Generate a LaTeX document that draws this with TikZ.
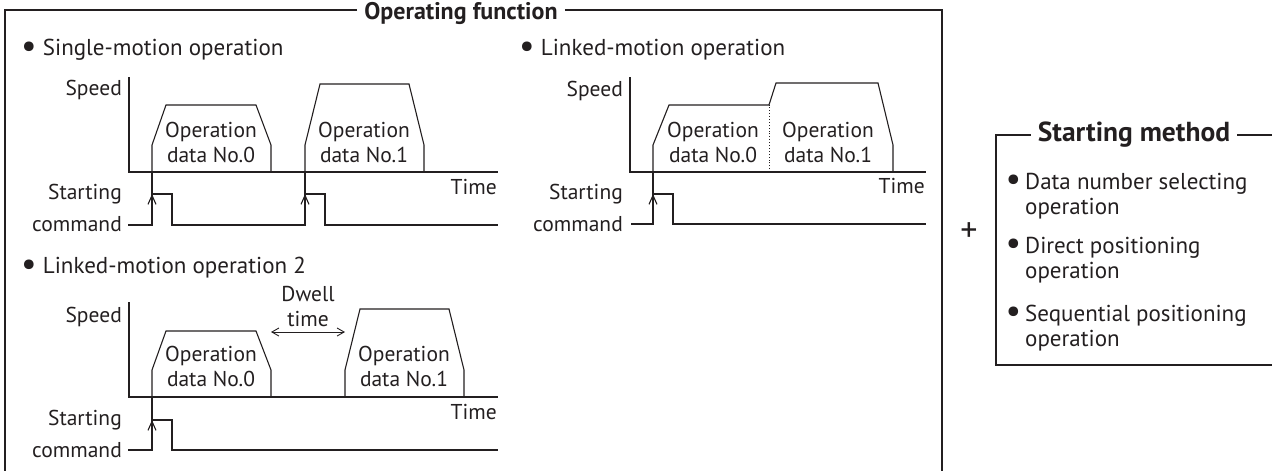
\documentclass[tikz,border=0pt]{standalone}
\usepackage{fontspec}
\setmainfont{PT Sans}
\usepackage{graphicx}
\usepackage{tikz}
\usetikzlibrary{positioning,arrows.meta,calc}
\usepackage{xcolor}
\definecolor{ink}{HTML}{231F20}
\newcommand{\bigbul}{\raisebox{-1.5pt}{\scalebox{1.5}{\textbullet}}}

\begin{document}
\begin{tikzpicture}[
    x=1pt, y=1pt,
    every node/.style={text=ink},
    lbl/.style={inner sep=1pt, font=\fontsize{21.5}{25}\selectfont},
    heading/.style={anchor=west, inner sep=0pt, font=\fontsize{23}{27}\selectfont},
    boxtitle/.style={inner sep=7pt, font=\fontsize{24}{27}\selectfont\bfseries},
    itemtext/.style={anchor=west, align=left, inner sep=0pt, font=\fontsize{23}{25}\selectfont},
    frameline/.style={draw=ink, line width=1.3pt},
    axisline/.style={draw=ink, line width=1.1pt},
    wave/.style={draw=ink, line width=1.1pt, line join=miter},
    trigarrow/.style={draw=ink, line width=1.1pt, -{Straight Barb[length=9pt, width=8pt]}},
    dimline/.style={draw=ink, line width=0.9pt, {Straight Barb[length=7pt, width=8pt]}-{Straight Barb[length=7pt, width=8pt]}},
]
\useasboundingbox (0,0) rectangle (1272,-471);

\node[boxtitle] (opfunc) at (461,-13) {Operating function};
\draw[frameline] (opfunc.west |- 0,-10) -| (5,-475);
\draw[frameline] (opfunc.east |- 0,-10) -| (942,-475);

\node[heading] (hsingle) at (21,-50) {\bigbul\ Single-motion operation};
\node[heading] (hlinked) at (519,-50) {\bigbul\ Linked-motion operation};
\node[heading] (hlinkedtwo) at (21,-268) {\bigbul\ Linked-motion operation 2};

\begin{scope}[shift={(129,-172)}]
    \draw[axisline] (0,95) -- (0,0) -- (369,0);
    \draw[wave] (23,0) -- (23,27) -- (37,67) -- (127,67) -- (142,27) -- (142,0);
    \draw[wave] (176,0) -- (176,27) -- (191,88) -- (280,88) -- (295,27) -- (295,0);
    \draw[wave] (-1,-53) -- (23,-53) -- (23,-22) -- (43,-22) -- (43,-53) -- (176,-53)
        -- (176,-22) -- (196,-22) -- (196,-53) -- (369,-53);
    \draw[wave] (23,-22) -- (23,0);
    \draw[wave] (176,-22) -- (176,0);
    \draw[trigarrow] (23,-40) -- (23,-22);
    \draw[trigarrow] (176,-40) -- (176,-22);
    \node[lbl, anchor=east] (speedA) at (-6,82) {Speed};
    \node[lbl, anchor=east] (timeA) at (369,-15) {Time};
    \node[lbl, anchor=east] (startA) at (-6,-22) {Starting};
    \node[lbl, anchor=east] (cmdA) at (-6,-52) {command};
    \node[lbl, align=center] (opAzero) at (82,30) {Operation\\data No.0};
    \node[lbl, align=center] (opAone) at (235,30) {Operation\\data No.1};
\end{scope}

\begin{scope}[shift={(630,-172)}]
    \draw[axisline] (0,95) -- (0,0) -- (296,0);
    \draw[wave] (23,0) -- (23,27) -- (39,67) -- (139,67) -- (146,89) -- (248,89) -- (263,27) -- (263,0);
    \draw[ink, line width=0.9pt, dotted] (139,0) -- (139,67);
    \draw[wave] (1,-52) -- (23,-52) -- (23,-22) -- (43,-22) -- (43,-52) -- (296,-52);
    \draw[wave] (23,-22) -- (23,0);
    \draw[trigarrow] (23,-40) -- (23,-22);
    \node[lbl, anchor=east] (speedB) at (-6,81) {Speed};
    \node[lbl, anchor=east] (timeB) at (296,-14) {Time};
    \node[lbl, anchor=east] (startB) at (-6,-22) {Starting};
    \node[lbl, anchor=east] (cmdB) at (-6,-52) {command};
    \node[lbl, align=center] (opBzero) at (83,30) {Operation\\data No.0};
    \node[lbl, align=center] (opBone) at (198,30) {Operation\\data No.1};
\end{scope}

\begin{scope}[shift={(129,-397)}]
    \draw[axisline] (0,95) -- (0,0) -- (369,0);
    \draw[wave] (23,0) -- (23,27) -- (37,66) -- (127,66) -- (142,27) -- (142,0);
    \draw[wave] (216,0) -- (216,27) -- (231,88) -- (320,88) -- (335,27) -- (335,0);
    \draw[wave] (-1,-53) -- (23,-53) -- (23,-23) -- (43,-23) -- (43,-53) -- (369,-53);
    \draw[wave] (23,-23) -- (23,0);
    \draw[trigarrow] (23,-41) -- (23,-23);
    \coordinate (dwellL) at (142,65);
    \coordinate (dwellR) at (216,65);
    \draw[dimline] (dwellL) -- (dwellR);
    \node[lbl, align=center] (dwell) at (179,90) {Dwell\\time};
    \node[lbl, anchor=east] (speedC) at (-6,80) {Speed};
    \node[lbl, anchor=east] (timeC) at (369,-15) {Time};
    \node[lbl, anchor=east] (startC) at (-6,-23) {Starting};
    \node[lbl, anchor=east] (cmdC) at (-6,-53) {command};
    \node[lbl, align=center] (opCzero) at (82,31) {Operation\\data No.0};
    \node[lbl, align=center] (opCone) at (275,31) {Operation\\data No.1};
\end{scope}

\node[font=\fontsize{34}{34}\selectfont, inner sep=0pt] (plus) at (969,-232) {+};

\node[boxtitle, font=\fontsize{27.5}{30}\selectfont\bfseries] (stmeth) at (1134,-135) {Starting method};
\draw[frameline] (stmeth.west) -| (996,-365) -- (1275,-365);
\draw[frameline] (stmeth.east) -- (1275,-135);
\node[itemtext] (itemdata) at (1025,-196) {\llap{\bigbul\hspace{4pt}}Data number selecting\\operation};
\node[itemtext] (itemdirect) at (1025,-260) {\llap{\bigbul\hspace{4pt}}Direct positioning\\operation};
\node[itemtext] (itemseq) at (1025,-328) {\llap{\bigbul\hspace{4pt}}Sequential positioning\\operation};
\end{tikzpicture}
\end{document}
